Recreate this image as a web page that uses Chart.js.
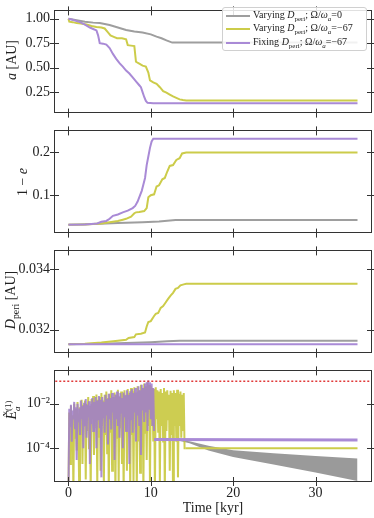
<!DOCTYPE html>
<html>
<head>
<meta charset="utf-8">
<script src="https://cdn.jsdelivr.net/npm/chart.js@4.4.1/dist/chart.umd.min.js"></script>
<style>
  body { margin: 0; background: #fff; }
  #wrap { position: relative; width: 374px; height: 518px; overflow: hidden; font-family: 'Liberation Serif', serif; color: #222; }
  canvas { position: absolute; left: 0; }
  .ylab { position: absolute; transform: translate(-50%, -50%) rotate(-90deg); white-space: nowrap; font-size: 14px; }
  .legend { position: absolute; left: 222px; top: 7px; width: 143px; height: 42px; border: 1px solid #d0d0d0; border-radius: 3px; background: rgba(255,255,255,0.85); font-size: 10px; }
  .legend .row { position: absolute; left: 3px; height: 12px; white-space: nowrap; }
  .legend .swatch { display: inline-block; width: 24px; height: 2px; vertical-align: middle; margin-right: 3px; }
  sub, sup { font-size: 70%; line-height: 0; }
</style>
</head>
<body>
<div id="wrap">
  <canvas id="c1" width="374" height="128" style="top:-2px"></canvas>
  <canvas id="c2" width="374" height="128" style="top:118px"></canvas>
  <canvas id="c3" width="374" height="128" style="top:238px"></canvas>
  <canvas id="c4" width="374" height="160" style="top:358px"></canvas>

  <div class="ylab" style="left:12px; top:60px"><i>a</i> [AU]</div>
  <div class="ylab" style="left:23px; top:182px">1 − <i>e</i></div>
  <div class="ylab" style="left:11px; top:300px"><i>D</i><sub>peri</sub> [AU]</div>
  <div class="ylab" style="left:13px; top:410px"><i>E&#771;</i><span style="display:inline-block; vertical-align:middle; font-size:9px; line-height:9px; text-align:left"><span style="display:block">(1)</span><span style="display:block"><i>a</i></span></span></div>

  <div class="legend">
    <div class="row" style="top:1px"><span class="swatch" style="background:#9e9e9e"></span>Varying <i>D</i><sub>peri</sub>; Ω/<i>ω</i><sub><i>a</i></sub>=0</div>
    <div class="row" style="top:14px"><span class="swatch" style="background:#cccc4a"></span>Varying <i>D</i><sub>peri</sub>; Ω/<i>ω</i><sub><i>a</i></sub>=−67</div>
    <div class="row" style="top:28px"><span class="swatch" style="background:#a98ad6"></span>Fixing <i>D</i><sub>peri</sub>; Ω/<i>ω</i><sub><i>a</i></sub>=−67</div>
  </div>
</div>

<script>
// shared x axis [kyr]
const xTicks = [0, 10, 20, 30];
const xMin = -1.755, xMax = 36.86;

// panel 1: semi-major axis a [AU]
const tAGray = [0, 1, 2, 3, 3.8, 5, 6, 7, 8, 9, 10, 10.7, 11.3, 11.9, 12.6, 35.1];
const aGray = [1.0, 0.985, 0.97, 0.96, 0.955, 0.935, 0.91, 0.885, 0.87, 0.86, 0.84, 0.817, 0.80, 0.778, 0.756, 0.756];
const tAYellow = [0, 0.1, 0.5, 1.0, 1.5, 2.2, 2.8, 3.4, 4.0, 4.4, 4.8, 5.1, 5.5, 5.9, 6.5, 7.0, 7.2, 7.6, 8.0, 8.2, 8.6, 9.0, 9.4, 9.7, 9.9, 10.3, 10.7, 11.1, 11.5, 11.9, 12.3, 12.7, 13.1, 13.5, 13.9, 14.3, 35.1];
const aYellow = [1.0, 0.97, 0.965, 0.955, 0.95, 0.94, 0.925, 0.915, 0.91, 0.9, 0.86, 0.83, 0.815, 0.80, 0.80, 0.79, 0.73, 0.725, 0.72, 0.56, 0.54, 0.52, 0.51, 0.45, 0.37, 0.35, 0.335, 0.30, 0.26, 0.245, 0.225, 0.205, 0.19, 0.175, 0.168, 0.164, 0.164];
const tAPurple = [0, 0.5, 1.0, 1.4, 2.0, 2.6, 3.0, 3.4, 3.6, 3.8, 4.2, 4.6, 5.0, 5.4, 5.8, 6.2, 6.6, 7.0, 7.4, 7.8, 8.2, 8.6, 8.8, 9.0, 9.2, 9.4, 9.6, 10.3, 35.1];
const aPurple = [1.0, 0.99, 0.975, 0.965, 0.94, 0.91, 0.895, 0.88, 0.83, 0.75, 0.745, 0.735, 0.70, 0.64, 0.59, 0.545, 0.51, 0.47, 0.44, 0.40, 0.36, 0.32, 0.30, 0.25, 0.20, 0.16, 0.14, 0.137, 0.137];

// panel 2: 1 - e
const tEGray = [0, 3, 6, 9, 11, 13, 35.1];
const eGray = [0.031, 0.033, 0.035, 0.037, 0.039, 0.042, 0.042];
const tEYellow = [0, 2, 4, 5, 6, 6.6, 7.0, 7.6, 8.0, 8.2, 8.6, 9.2, 9.5, 9.7, 10.0, 10.4, 10.7, 11.0, 11.4, 11.7, 12.0, 12.3, 12.7, 13.1, 13.5, 13.8, 14.3, 35.1];
const eYellow = [0.031, 0.032, 0.034, 0.037, 0.040, 0.043, 0.045, 0.050, 0.058, 0.060, 0.061, 0.063, 0.07, 0.095, 0.10, 0.102, 0.12, 0.123, 0.137, 0.14, 0.155, 0.168, 0.17, 0.182, 0.186, 0.197, 0.199, 0.199];
const tEPurple = [0, 2, 3.5, 4.0, 4.6, 5.0, 5.4, 6.0, 6.6, 7.2, 7.8, 8.1, 8.4, 8.7, 8.9, 9.1, 9.3, 9.5, 9.7, 9.9, 10.1, 10.3, 35.1];
const ePurple = [0.031, 0.032, 0.034, 0.038, 0.040, 0.045, 0.052, 0.055, 0.06, 0.064, 0.07, 0.075, 0.085, 0.10, 0.11, 0.125, 0.14, 0.17, 0.19, 0.21, 0.225, 0.231, 0.231];

// panel 3: D_peri [AU]
const tDGray = [0, 4, 8, 10, 12, 13.5, 35.1];
const dGray = [0.03151, 0.03153, 0.03156, 0.03158, 0.03161, 0.03163, 0.03163];
const tDYellow = [0, 2, 4, 6, 7.0, 7.3, 8.0, 8.2, 8.8, 9.3, 9.5, 9.7, 10.0, 10.4, 10.6, 10.9, 11.2, 11.5, 11.8, 12.1, 12.4, 12.7, 13.0, 13.3, 13.6, 14.0, 14.3, 35.1];
const dYellow = [0.03151, 0.03153, 0.03157, 0.03163, 0.03166, 0.03172, 0.03175, 0.03184, 0.03186, 0.0319, 0.0321, 0.03225, 0.03228, 0.03245, 0.03252, 0.03255, 0.03272, 0.03278, 0.0329, 0.03302, 0.03313, 0.03322, 0.03335, 0.03338, 0.03347, 0.0335, 0.03352, 0.03352];
const tDPurple = [0, 35.1];
const dPurple = [0.03151, 0.03151];

// panel 4: E_a^(1) (log), sampled every 0.1 kyr while noisy
const tNoise = [
    0, 0.1, 0.2, 0.3, 0.4, 0.5, 0.6, 0.7, 0.8, 0.9,
    1, 1.1, 1.2, 1.3, 1.4, 1.5, 1.6, 1.7, 1.8, 1.9,
    2, 2.1, 2.2, 2.3, 2.4, 2.5, 2.6, 2.7, 2.8, 2.9,
    3, 3.1, 3.2, 3.3, 3.4, 3.5, 3.6, 3.7, 3.8, 3.9,
    4, 4.1, 4.2, 4.3, 4.4, 4.5, 4.6, 4.7, 4.8, 4.9,
    5, 5.1, 5.2, 5.3, 5.4, 5.5, 5.6, 5.7, 5.8, 5.9,
    6, 6.1, 6.2, 6.3, 6.4, 6.5, 6.6, 6.7, 6.8, 6.9,
    7, 7.1, 7.2, 7.3, 7.4, 7.5, 7.6, 7.7, 7.8, 7.9,
    8, 8.1, 8.2, 8.3, 8.4, 8.5, 8.6, 8.7, 8.8, 8.9,
    9, 9.1, 9.2, 9.3, 9.4, 9.5, 9.6, 9.7, 9.8, 9.9,
    10, 10.1, 10.2, 10.3, 10.4, 10.5, 10.6, 10.7, 10.8, 10.9,
    11, 11.1, 11.2, 11.3, 11.4, 11.5, 11.6, 11.7, 11.8, 11.9,
    12, 12.1, 12.2, 12.3, 12.4, 12.5, 12.6, 12.7, 12.8, 12.9,
    13, 13.1, 13.2, 13.3, 13.4, 13.5, 13.6, 13.7, 13.8, 13.9,
    14, 14.1, 14.2];
const eaYellow = [
    1e-6, 4e-3, 2e-5, 8e-3, 5e-4, 3e-3, 1e-6, 1e-2, 3e-4, 6e-3,
    8e-5, 1.2e-2, 1e-3, 2e-6, 7e-3, 4e-4, 1.5e-2, 2e-5, 9e-3, 1e-3,
    1.4e-2, 4e-6, 1e-2, 6e-4, 2e-2, 1e-4, 8e-3, 1e-6, 1.6e-2, 2e-3,
    2.2e-2, 5e-5, 1.2e-2, 8e-4, 2.6e-2, 2e-6, 1.5e-2, 3e-4, 2e-2, 1e-5,
    3e-2, 1e-3, 1.4e-2, 2e-6, 2.5e-2, 4e-4, 3.5e-2, 6e-5, 1.8e-2, 1e-6,
    2.8e-2, 5e-4, 4e-2, 1e-5, 2e-2, 1.5e-3, 3.2e-2, 1e-6, 2.4e-2, 3e-4,
    4.2e-2, 3e-6, 2e-2, 8e-4, 3.5e-2, 2e-5, 2.8e-2, 1e-6, 4e-2, 6e-4,
    2.5e-2, 1e-5, 4.5e-2, 2e-3, 3e-2, 1e-6, 5e-2, 4e-4, 3.6e-2, 3e-6,
    5.5e-2, 1e-3, 3.2e-2, 1e-6, 6e-2, 2e-4, 4e-2, 8e-6, 7e-2, 2e-3,
    5e-2, 1e-6, 8e-2, 5e-4, 6e-2, 3e-5, 9e-2, 1e-3, 7e-2, 2e-6,
    6e-2, 1e-3, 5e-2, 2e-4, 4.5e-2, 1e-6, 5.5e-2, 2e-3, 4e-2, 5e-4,
    3.5e-2, 3e-6, 4.5e-2, 1e-3, 3e-2, 2e-4, 5e-2, 1e-6, 3.5e-2, 6e-4,
    4e-2, 2e-3, 2.5e-2, 1e-5, 3.8e-2, 4e-4, 3e-2, 1e-6, 4e-2, 1e-3,
    3e-2, 2e-4, 4.2e-2, 5e-6, 2.8e-2, 1e-3, 3.5e-2, 3e-4, 2.5e-2, 6e-4,
    3e-2, 1e-4, 1e-4];
const eaPurple = [
    1e-6, 6e-3, 1e-3, 9e-3, 2e-4, 5e-3, 2e-3, 1.2e-2, 8e-4, 7e-3,
    3e-5, 1e-2, 1.5e-3, 6e-3, 4e-4, 1.4e-2, 2e-3, 8e-3, 1e-4, 1.1e-2,
    1e-3, 1.6e-2, 3e-4, 9e-3, 2.5e-3, 1.3e-2, 2e-5, 1e-2, 1.2e-3, 1.8e-2,
    6e-4, 1.2e-2, 3e-3, 2e-2, 1e-4, 1.4e-2, 2e-3, 2.2e-2, 8e-4, 1.5e-2,
    5e-6, 2e-2, 2.5e-3, 1.2e-2, 5e-4, 2.5e-2, 3e-3, 1.6e-2, 1.5e-4, 2.8e-2,
    2e-3, 1.8e-2, 7e-4, 3e-2, 4e-3, 2e-2, 3e-5, 2.6e-2, 2e-3, 3.5e-2,
    1e-3, 2.2e-2, 3e-4, 3e-2, 4e-3, 1.8e-2, 1e-4, 3.2e-2, 2.5e-3, 2.4e-2,
    6e-4, 4e-2, 3e-3, 2.5e-2, 2e-5, 3.6e-2, 2e-3, 4.5e-2, 5e-4, 3e-2,
    4e-3, 5e-2, 2e-4, 3.5e-2, 3e-3, 6e-2, 1e-3, 4e-2, 5e-5, 7e-2,
    5e-3, 5e-2, 1.5e-3, 8e-2, 4e-3, 9e-2, 6e-4, 1.1e-1, 6e-3, 9e-2,
    2e-3, 8e-2, 1e-3, 5e-2, 6e-4];
const tYellowFlat = [14.2, 35.1];
const eaYellowFlat = [1e-4, 1e-4];
const tPurpleFlat = [10.4, 35.1];
const eaPurpleFlat = [2.5e-4, 2.35e-4];
const tGrayBand = [12.5, 14.7, 17, 20, 24.9, 30, 35.1];
const eaGrayHigh = [2.6e-4, 2.1e-4, 1.3e-4, 8.3e-5, 6e-5, 4.5e-5, 3.5e-5];
const eaGrayLow = [2.6e-4, 1.7e-4, 8e-5, 4.1e-5, 1.9e-5, 8.3e-6, 3.4e-6];
const eaLimit = 0.1;

const GRAY = '#9e9e9e', YELLOW = '#cccc4a', PURPLE = '#a98ad6';

Chart.defaults.font.family = "'Liberation Serif', serif";
Chart.defaults.font.size = 14;
Chart.defaults.color = '#222';

function pts(t, v) {
    return v.map((y, i) => ({ x: t[i], y: y }));
}

function line(t, v, color, width, order) {
    return {
        data: pts(t, v),
        borderColor: color,
        borderWidth: width,
        pointRadius: 0,
        tension: 0,
        fill: false,
        order: order
    };
}

// frame with in-out ticks on all four sides
const framePlugin = {
    id: 'frame',
    afterDatasetsDraw(chart, args, opts) {
        const { ctx, chartArea: a, scales } = chart;
        ctx.save();
        ctx.strokeStyle = '#333';
        ctx.lineWidth = 1;
        ctx.strokeRect(Math.round(a.left) + 0.5, Math.round(a.top) + 0.5, Math.round(a.width) - 1, Math.round(a.height) - 1);
        ctx.beginPath();
        xTicks.forEach(v => {
            const px = Math.round(scales.x.getPixelForValue(v)) + 0.5;
            ctx.moveTo(px, a.top - 4); ctx.lineTo(px, a.top + 5);
            ctx.moveTo(px, a.bottom - 5); ctx.lineTo(px, a.bottom + 4);
        });
        opts.yTicks.forEach(v => {
            const py = Math.round(scales.y.getPixelForValue(v)) + 0.5;
            ctx.moveTo(a.left - 4, py); ctx.lineTo(a.left + 5, py);
            ctx.moveTo(a.right - 5, py); ctx.lineTo(a.right + 4, py);
        });
        ctx.stroke();
        ctx.restore();
    }
};

function makePanel(id, datasets, yOpts, yTicks, yLabel, bottom) {
    const xScale = {
        type: 'linear', min: xMin, max: xMax,
        display: bottom,
        grid: { display: false, drawTicks: false },
        border: { display: false },
        afterBuildTicks: s => { s.ticks = xTicks.map(v => ({ value: v })); },
        ticks: { padding: 3 },
        title: { display: bottom, text: 'Time [kyr]', padding: { top: 0, bottom: 1 } },
        afterFit: s => { s.height = bottom ? 36 : 0; }
    };
    const yScale = Object.assign({
        grid: { display: false, drawTicks: false },
        border: { display: false },
        afterBuildTicks: s => { s.ticks = yTicks.map(v => ({ value: v })); },
        ticks: { padding: 4, callback: v => yLabel(v) },
        afterFit: s => { s.width = 54; }
    }, yOpts);
    return new Chart(document.getElementById(id), {
        type: 'line',
        data: { datasets: datasets },
        plugins: [framePlugin],
        options: {
            responsive: false,
            animation: false,
            layout: { padding: { top: 4, right: 2, bottom: bottom ? 0 : 4, left: 0 } },
            scales: { x: xScale, y: yScale },
            plugins: { legend: { display: false }, tooltip: { enabled: false }, frame: { yTicks: yTicks } }
        }
    });
}

makePanel('c1', [
    line(tAGray, aGray, GRAY, 2, 3),
    line(tAYellow, aYellow, YELLOW, 2, 2),
    line(tAPurple, aPurple, PURPLE, 2, 1)
], { type: 'linear', min: 0.03, max: 1.085 }, [0.25, 0.5, 0.75, 1.0], v => v.toFixed(2), false);

makePanel('c2', [
    line(tEGray, eGray, GRAY, 2, 3),
    line(tEYellow, eYellow, YELLOW, 2, 2),
    line(tEPurple, ePurple, PURPLE, 2, 1)
], { type: 'linear', min: 0.0106, max: 0.2506 }, [0.1, 0.2], v => v.toFixed(1), false);

makePanel('c3', [
    line(tDGray, dGray, GRAY, 2, 3),
    line(tDYellow, dYellow, YELLOW, 2, 2),
    line(tDPurple, dPurple, PURPLE, 2, 1)
], { type: 'linear', min: 0.0312, max: 0.03463 }, [0.032, 0.034], v => v.toFixed(3), false);

const bandHigh = line(tGrayBand, eaGrayHigh, '#9a9a9a', 0, 6);
const bandLow = line(tGrayBand, eaGrayLow, '#9a9a9a', 0, 5);
bandLow.fill = '-1';
bandLow.backgroundColor = '#9a9a9a';

const supLabels = { '0.01': '10⁻²', '0.0001': '10⁻⁴' };

makePanel('c4', [
    bandHigh,
    bandLow,
    line(tNoise, eaYellow, 'rgba(196,196,50,0.85)', 2, 4),
    line(tYellowFlat, eaYellowFlat, YELLOW, 2, 4),
    line(tNoise, eaPurple, 'rgba(160,124,206,0.85)', 2, 3),
    line(tPurpleFlat, eaPurpleFlat, PURPLE, 3, 3),
    Object.assign(line([-5, 40], [eaLimit, eaLimit], '#e03a3a', 1.5, 1), { borderDash: [2, 2] })
], { type: 'logarithmic', min: 3.1e-6, max: 0.31 }, [1e-4, 1e-2], v => supLabels[String(v)] || '', true);
</script>
</body>
</html>
